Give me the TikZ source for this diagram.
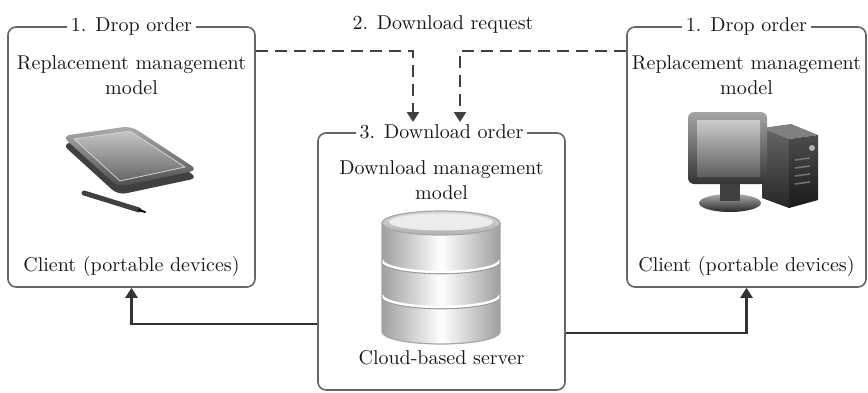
\documentclass[tikz,border=0pt]{standalone}
\usetikzlibrary{arrows.meta}

\tikzset{
  panel/.style={draw=black!60, line width=0.8pt, rounded corners=4pt},
  ttl/.style={fill=white, inner xsep=2pt, inner ysep=1pt, text=black!90},
  txt/.style={align=center, text=black!90, font=\fontsize{10}{12.5}\selectfont},
  req/.style={draw=black!75, line width=1.3pt, dash pattern=on 6pt off 3.5pt, -{Triangle[length=5pt,width=6pt]}},
  ord/.style={draw=black!80, line width=1.2pt, -{Triangle[length=5pt,width=6pt]}},
}

\begin{document}
\begin{tikzpicture}[x=0.5pt, y=0.5pt, font=\fontsize{10}{12.5}\selectfont]
\useasboundingbox (0,0) rectangle (868,392);

% the three frames
\node[panel, minimum width=123.5pt, minimum height=130pt] (lbox) at (131.5,235) {};
\node[panel, minimum width=119.5pt, minimum height=130pt] (rbox) at (746.5,235) {};
\node[panel, minimum width=123.5pt, minimum height=128.5pt] (cbox) at (441.5,130.5) {};

\node[ttl] (ltitle) at (lbox.north) {1. Drop order};
\node[ttl] (rtitle) at (rbox.north) {1. Drop order};
\node[ttl] (ctitle) at (cbox.north) {3. Download order};

\node[txt] (lmodel) at (131.5,317) {Replacement management\\model};
\node[txt] (rmodel) at (746.5,317) {Replacement management\\model};
\node[txt] (cmodel) at (441.5,212) {Download management\\model};

\node[txt] (lclient) at (131.5,126) {Client (portable devices)};
\node[txt] (rclient) at (746.5,126) {Client (portable devices)};
\node[txt] (server) at (441.5,34) {Cloud-based server};

\node[txt] (reqlabel) at (443,368) {2. Download request};

% requests and orders
\coordinate (tipL) at (413,270);
\coordinate (tipR) at (460,270);
\draw[req] ([yshift=-12.5pt]lbox.north east) -| (tipL);
\draw[req] ([yshift=-12.5pt]rbox.north west) -| (tipR);
\draw[ord] ([yshift=-31.25pt]cbox.west) -| (lbox.south);
\draw[ord] ([yshift=-35.75pt]cbox.east) -| (rbox.south);

% tablet and pen
\fill[black!75, rounded corners=4pt] (62,248) -- (131,258) -- (198,214) -- (118,197) -- cycle;
\shade[top color=gray!65, bottom color=black!70, rounded corners=4pt] (62,256) -- (131,266) -- (198,222) -- (118,205) -- cycle;
\shade[top color=gray!45, bottom color=gray!80!black, draw=gray!35, line width=0.4pt] (74,253) -- (130,261) -- (185,225) -- (120,211) -- cycle;
\draw[line width=2.5pt, line cap=round, black!75] (84,199) -- (139,182);
\draw[line width=1pt, line cap=round, black] (139,182) -- (145,180);

% desktop computer
\fill[black!50] (762,264) -- (791,268) -- (818,257) -- (789,253) -- cycle;
\shade[top color=black!60, bottom color=black!85] (762,264) -- (789,253) -- (789,184) -- (762,194) -- cycle;
\shade[top color=black!70, bottom color=black!90] (789,253) -- (818,257) -- (818,192) -- (789,184) -- cycle;
\foreach \yy in {232,224,216,208}
  \draw[black!55, line width=0.8pt] (795,\yy) -- (810,\yy+2);
\fill[gray!60] (812,244) circle (3);
\shade[top color=gray!65, bottom color=black!85] (730,189) ellipse (31 and 9);
\fill[black!75] (720,191) rectangle (740,209);
\shade[top color=gray!70, bottom color=black!80, rounded corners=3pt] (688,208) rectangle (767,280);
\shade[top color=gray!40, bottom color=gray!75!black] (697,216) rectangle (760,272);

% database cylinder
\shade[left color=gray!75, right color=gray!75, middle color=white] (382,169) -- (382,60) arc (180:360:59 and 12) -- (500,169) -- cycle;
\foreach \yy in {132,97}
{
  \draw[gray!80, line width=0.8pt] (382,\yy-1.5) arc (180:360:59 and 12);
  \draw[white, line width=1.2pt] (382,\yy) arc (180:360:59 and 12);
}
\draw[gray!70, line width=0.6pt] (382,169) -- (382,60) arc (180:360:59 and 12) -- (500,169);
\shade[top color=gray!30, bottom color=gray!60, draw=gray!70, line width=0.6pt] (441,169) ellipse (59 and 12);
\fill[gray!15] (441,170) ellipse (52 and 8.5);
\end{tikzpicture}
\end{document}
